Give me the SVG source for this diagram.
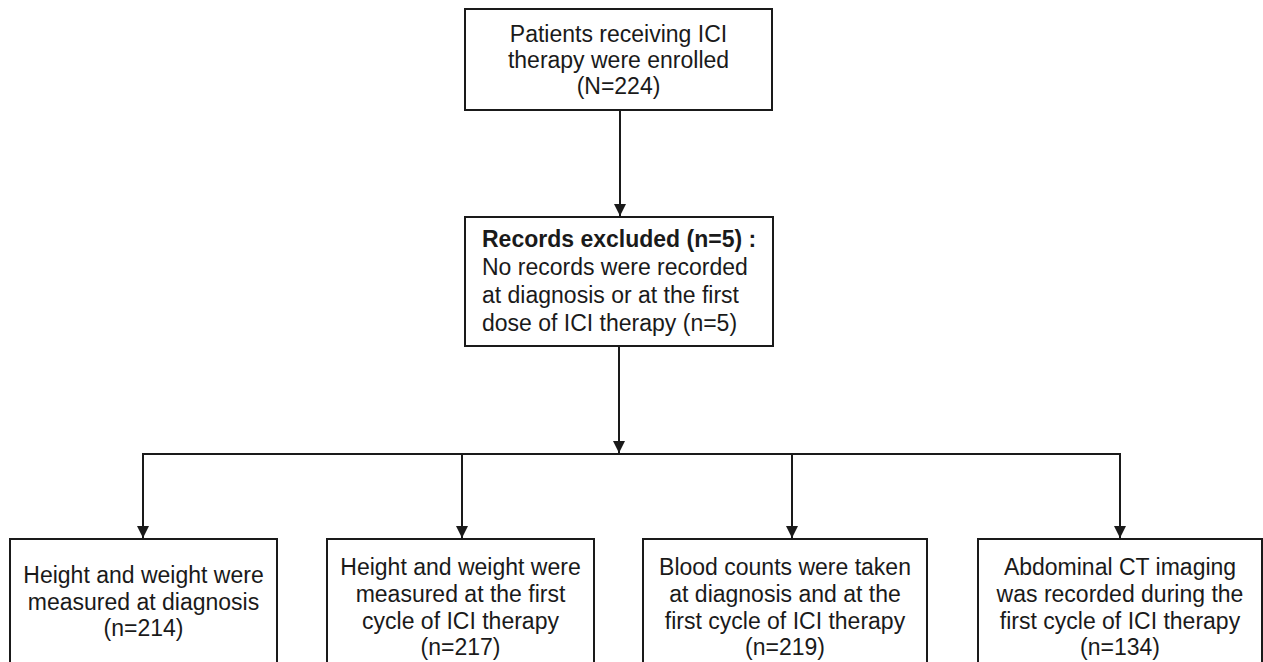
<svg xmlns="http://www.w3.org/2000/svg" width="1263" height="662" viewBox="0 0 1263 662">
<style>
.box{fill:#fff;stroke:#1a1a1a;stroke-width:2}
.t{font-family:"Liberation Sans",Arial,sans-serif;font-size:23px;fill:#1a1a1a}
.c{text-anchor:middle}
.b{font-weight:bold}
.ln{fill:none;stroke:#1a1a1a;stroke-width:2}
</style>
<defs>
<marker id="ah" viewBox="0 0 12 12" refX="12" refY="6" markerWidth="12" markerHeight="12" markerUnits="userSpaceOnUse" orient="auto">
<path d="M0,0 L12,6 L0,12 Z" fill="#1a1a1a"/>
</marker>
</defs>
<rect width="1263" height="662" fill="#fff"/>
<g id="connectors">
<line class="ln" x1="620" y1="110" x2="620" y2="216" marker-end="url(#ah)"/>
<line class="ln" x1="619" y1="346" x2="619" y2="453" marker-end="url(#ah)"/>
<line class="ln" x1="142" y1="454" x2="1121" y2="454"/>
<line class="ln" x1="143" y1="454" x2="143" y2="538" marker-end="url(#ah)"/>
<line class="ln" x1="462" y1="454" x2="462" y2="538" marker-end="url(#ah)"/>
<line class="ln" x1="792" y1="454" x2="792" y2="538" marker-end="url(#ah)"/>
<line class="ln" x1="1120" y1="454" x2="1120" y2="538" marker-end="url(#ah)"/>
</g>
<g id="n_enrolled">
<rect class="box" x="465" y="9" width="307" height="101"/>
<text class="t c" x="618.5" y="42">Patients receiving ICI</text>
<text class="t c" x="618.5" y="68">therapy were enrolled</text>
<text class="t c" x="618.5" y="94">(N=224)</text>
</g>
<g id="n_excluded">
<rect class="box" x="465" y="217" width="308" height="129"/>
<text class="t b" x="482" y="247">Records excluded (n=5) :</text>
<text class="t" x="482" y="275">No records were recorded</text>
<text class="t" x="482" y="303">at diagnosis or at the first</text>
<text class="t" x="482" y="331">dose of ICI therapy (n=5)</text>
</g>
<g id="n_diag">
<rect class="box" x="10" y="539" width="267" height="130"/>
<text class="t c" x="143.5" y="583">Height and weight were</text>
<text class="t c" x="143.5" y="610">measured at diagnosis</text>
<text class="t c" x="143.5" y="636">(n=214)</text>
</g>
<g id="n_first">
<rect class="box" x="327" y="539" width="267" height="130"/>
<text class="t c" x="460.5" y="575">Height and weight were</text>
<text class="t c" x="460.5" y="602">measured at the first</text>
<text class="t c" x="460.5" y="629">cycle of ICI therapy</text>
<text class="t c" x="460.5" y="655">(n=217)</text>
</g>
<g id="n_blood">
<rect class="box" x="643" y="539" width="284" height="130"/>
<text class="t c" x="785" y="575">Blood counts were taken</text>
<text class="t c" x="785" y="602">at diagnosis and at the</text>
<text class="t c" x="785" y="629">first cycle of ICI therapy</text>
<text class="t c" x="785" y="655">(n=219)</text>
</g>
<g id="n_ct">
<rect class="box" x="978" y="539" width="284" height="130"/>
<text class="t c" x="1120" y="575">Abdominal CT imaging</text>
<text class="t c" x="1120" y="602">was recorded during the</text>
<text class="t c" x="1120" y="629">first cycle of ICI therapy</text>
<text class="t c" x="1120" y="655">(n=134)</text>
</g>
</svg>
